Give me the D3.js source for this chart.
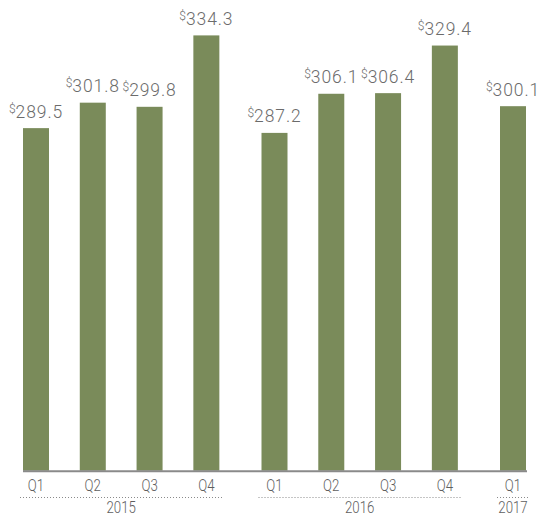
<!DOCTYPE html>
<html>
<head>
<meta charset="utf-8">
<script src="https://cdn.jsdelivr.net/npm/d3@7"></script>
<style>
  body { margin: 0; background: #fff; }
  .num { font-family: Roboto, "Liberation Sans", sans-serif; font-weight: 300; }
  .cond { font-family: Roboto, "Liberation Sans", sans-serif; font-weight: 300; }
</style>
</head>
<body>
<div id="chart"></div>
<script>
// quarterly values ($)
const quarters = ['Q1', 'Q2', 'Q3', 'Q4', 'Q1', 'Q2', 'Q3', 'Q4', 'Q1'];
const quarterYears = ['2015', '2015', '2015', '2015', '2016', '2016', '2016', '2016', '2017'];
const values = [289.5, 301.8, 299.8, 334.3, 287.2, 306.1, 306.4, 329.4, 300.1];
const years = ['2015', '2016', '2017'];

const width = 541;
const height = 516;
const barWidth = 26;
const groupGap = 0.2; // extra slots between years

const data = values.map((v, i) => ({
  quarter: quarters[i],
  year: quarterYears[i],
  value: v,
  slot: i + years.indexOf(quarterYears[i]) * groupGap
}));

const x = d3.scaleLinear()
  .domain([0, d3.max(data, d => d.slot)])
  .range([23, 500]);

// chart does not start at zero
const y = d3.scaleLinear()
  .domain([124, 340])
  .range([470.7, 23.6]);

const svg = d3.select('#chart')
  .append('svg')
  .attr('width', width)
  .attr('height', height);

svg.selectAll('rect.bar')
  .data(data)
  .join('rect')
  .attr('class', 'bar')
  .attr('x', d => x(d.slot))
  .attr('y', d => y(d.value))
  .attr('width', barWidth)
  .attr('height', d => y.range()[0] - y(d.value))
  .attr('fill', '#7a8b5a');

// baseline
svg.append('line')
  .attr('x1', x(0))
  .attr('x2', x(d3.max(data, d => d.slot)) + barWidth + 1)
  .attr('y1', y.range()[0] + 0.5)
  .attr('y2', y.range()[0] + 0.5)
  .attr('stroke', '#8a8a8a')
  .attr('stroke-width', 2);

// value labels with superscript $
const labels = svg.selectAll('text.val')
  .data(data)
  .join('text')
  .attr('class', 'val num')
  .attr('x', d => x(d.slot) + barWidth / 2)
  .attr('y', d => y(d.value) - 10.5)
  .attr('text-anchor', 'middle')
  .attr('fill', '#6b6b6b');

labels.append('tspan')
  .attr('font-size', 12)
  .attr('dy', -5)
  .text('$');
labels.append('tspan')
  .attr('font-size', 17.5)
  .attr('letter-spacing', 0.9)
  .attr('dy', 5)
  .text(d => d.value.toFixed(1));

// quarter labels (squeezed horizontally for a condensed look)
svg.selectAll('text.q')
  .data(data)
  .join('text')
  .attr('class', 'q cond')
  .attr('transform', d => `translate(${x(d.slot) + barWidth / 2},491) scale(0.78,1)`)
  .attr('text-anchor', 'middle')
  .attr('font-size', 17)
  .attr('fill', '#5e5e5e')
  .text(d => d.quarter);

// year groups with dotted rule
const groups = years.map(yr => {
  const ds = data.filter(d => d.year === yr);
  return {
    year: yr,
    x0: x(d3.min(ds, d => d.slot)),
    x1: x(d3.max(ds, d => d.slot)) + barWidth
  };
});

svg.selectAll('line.grp')
  .data(groups)
  .join('line')
  .attr('class', 'grp')
  .attr('x1', d => d.x0 - 3)
  .attr('x2', d => d.x1 + 4)
  .attr('y1', 497.5)
  .attr('y2', 497.5)
  .attr('stroke', '#8a8a8a')
  .attr('stroke-width', 1)
  .attr('stroke-dasharray', '1,2');

svg.selectAll('text.yr')
  .data(groups)
  .join('text')
  .attr('class', 'yr cond')
  .attr('transform', d => `translate(${(d.x0 + d.x1) / 2},512.5) scale(0.78,1)`)
  .attr('text-anchor', 'middle')
  .attr('font-size', 17)
  .attr('fill', '#5e5e5e')
  .text(d => d.year);
</script>
</body>
</html>
